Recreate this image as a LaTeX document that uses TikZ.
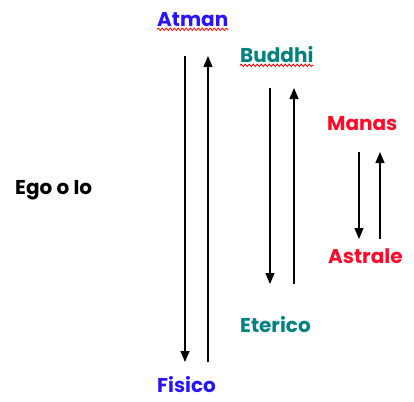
\documentclass[tikz,border=0pt]{standalone}
\usepackage{fontspec}
\setmainfont{Poppins}
\usetikzlibrary{arrows.meta,decorations.pathmorphing}
\definecolor{cblue}{RGB}{40,20,255}
\definecolor{cteal}{RGB}{0,130,130}
\definecolor{cred}{RGB}{255,10,40}
\tikzset{
  lbl/.style={font=\fontsize{20}{20}\selectfont\bfseries, inner sep=0pt, anchor=west},
  arr/.style={line width=1.2pt, -{Triangle[width=9pt,length=11pt]}},
  spell/.style={red, line width=0.8pt, decorate, decoration={snake, amplitude=1.2pt, segment length=4pt}}
}
\begin{document}
\begin{tikzpicture}[x=1pt,y=-1pt]
\useasboundingbox (0,0) rectangle (414,401);
\node[lbl, text=cblue] (atman) at (157,20) {Atman};
\node[lbl, text=cteal] (buddhi) at (240,55) {Buddhi};
\node[lbl, text=cred] (manas) at (327,124) {Manas};
\node[lbl, text=cred] (astrale) at (328,256) {Astrale};
\node[lbl, text=black] (ego) at (15,190) {Ego o Io};
\node[lbl, text=cteal] (eterico) at (240,325) {Eterico};
\node[lbl, text=cblue] (fisico) at (157,385) {Fisico};
% spell-check underlines
\draw[spell] ([yshift=-2pt]atman.south west) -- ([yshift=-2pt]atman.south east);
\draw[spell] ([yshift=-2pt]buddhi.south west) -- ([yshift=-2pt]buddhi.south east);
% big pair
\coordinate (a1) at (185,56);
\coordinate (a2) at (185,362);
\coordinate (b1) at (208,362);
\coordinate (b2) at (208,56);
\draw[arr] (a1) -- (a2);
\draw[arr] (b1) -- (b2);
% middle pair
\coordinate (c1) at (270,88);
\coordinate (c2) at (270,284);
\coordinate (d1) at (294,284);
\coordinate (d2) at (294,88);
\draw[arr] (c1) -- (c2);
\draw[arr] (d1) -- (d2);
% small pair
\coordinate (e1) at (359,152);
\coordinate (e2) at (359,239);
\coordinate (f1) at (380,239);
\coordinate (f2) at (380,152);
\draw[arr] (e1) -- (e2);
\draw[arr] (f1) -- (f2);
\end{tikzpicture}
\end{document}
